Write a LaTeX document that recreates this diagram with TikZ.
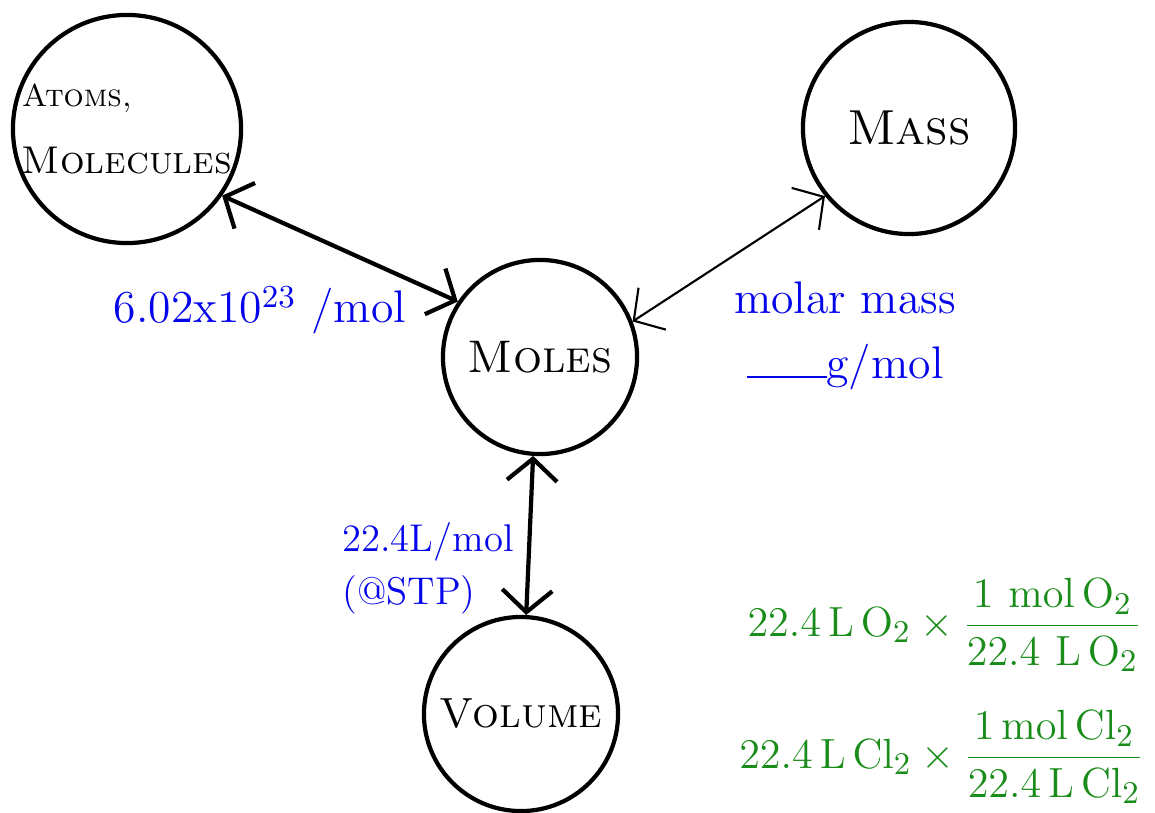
\documentclass[tikz,border=0pt]{standalone}
\usetikzlibrary{arrows.meta,positioning}
\definecolor{inkblue}{RGB}{5,5,235}
\definecolor{inkgreen}{RGB}{25,140,25}
\begin{document}
\begin{tikzpicture}[
    x=0.01cm, y=-0.01cm,
    quantity/.style = {shape=circle, draw=black, line width=1.2pt, inner sep=0pt, align=center, font=\fontsize{14}{17}\selectfont\scshape},
    factor/.style = {text=inkblue, align=left, font=\fontsize{13}{16}\selectfont},
    worked/.style = {text=inkgreen, font=\fontsize{13}{16}\selectfont},
    convert/.style = {<->, >={Straight Barb[length=2.2mm,width=5mm]}, line width=1.2pt}
  ]
  \useasboundingbox (0,0) rectangle (1155,812);

  % the four quantities
  \node[quantity, minimum size=2.28cm, align=left, font=\fontsize{11}{13}\selectfont\scshape] (atoms) at (127,129)
    {{\fontsize{9}{11}\selectfont Atoms,}\\[6pt]Molecules};
  \node[quantity, minimum size=2.12cm] (mass) at (909,128) {Mass};
  \node[quantity, minimum size=1.94cm, font=\fontsize{13}{16}\selectfont\scshape] (moles) at (540,357) {Moles};
  \node[quantity, minimum size=1.94cm, font=\fontsize{12}{14}\selectfont\scshape] (volume) at (521,714) {Volume};

  % conversions through moles
  \draw[convert] (atoms.-35) -- (moles.146);
  \draw[convert, line width=0.6pt] (moles.21) -- (mass.219);
  \draw[convert] (moles.-94) -- (volume.87);

  % conversion factors
  \node[factor] (avogadro) at (260,310) {6.02x10\textsuperscript{23} /mol};
  \node[factor] (molarmass) at (845,298) {molar mass};
  \node[factor, below=0.05cm of molarmass] (gpermol) {\rule{0.8cm}{0.7pt}g/mol};
  \node[factor, font=\fontsize{11}{15}\selectfont] (stp) at (428,568) {22.4L/mol\\(@STP)};

  % worked examples
  \node[worked] (oxygen) at (945,625)
    {$22.4\,\mathrm{L\,O_2}\times\displaystyle\frac{1\ \mathrm{mol\,O_2}}{22.4\ \mathrm{L\,O_2}}$};
  \node[worked] (chlorine) at (942,757)
    {$22.4\,\mathrm{L\,Cl_2}\times\displaystyle\frac{1\,\mathrm{mol\,Cl_2}}{22.4\,\mathrm{L\,Cl_2}}$};
\end{tikzpicture}
\end{document}
